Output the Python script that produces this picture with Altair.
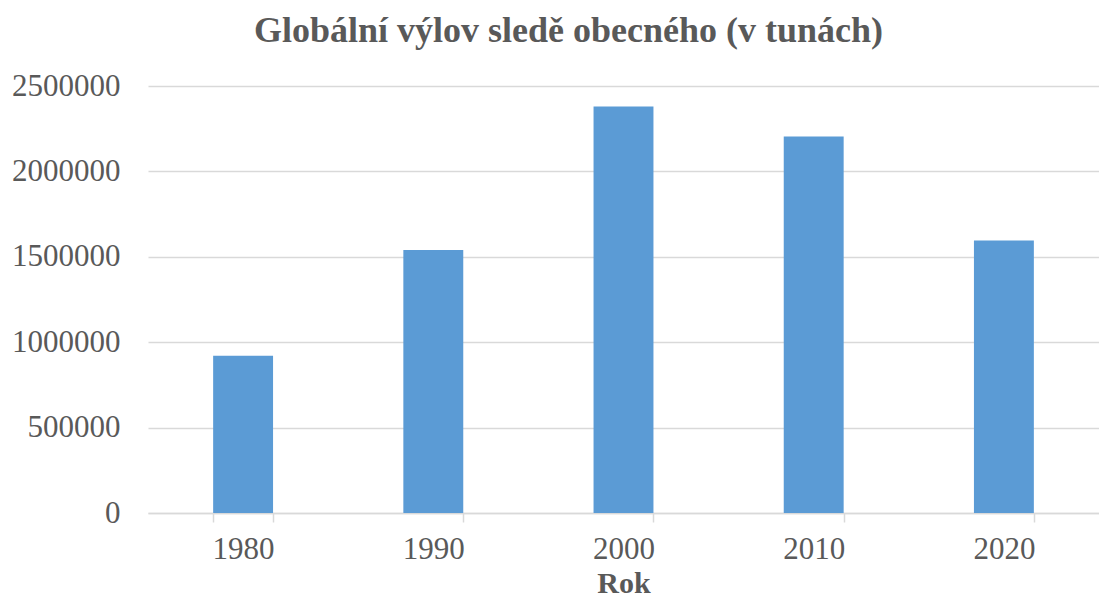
import altair as alt
import pandas as pd

years = ["1980", "1990", "2000", "2010", "2020"]
catch_tonnes = [920000, 1540000, 2380000, 2205000, 1595000]
y_ticks = [0, 500000, 1000000, 1500000, 2000000, 2500000]

df = pd.DataFrame({"Rok": years, "Vylov": catch_tonnes})

FONT = "Liberation Serif"
GREY = "#595959"
GRID = "#d9d9d9"

chart = (
    alt.Chart(df)
    .mark_bar(color="#5B9BD5")
    .encode(
        x=alt.X(
            "Rok:N",
            sort=years,
            title="Rok",
            scale=alt.Scale(paddingInner=0.685, paddingOuter=0.3425),
            axis=alt.Axis(
                labelAngle=0,
                labelFont=FONT,
                labelFontSize=31,
                labelColor=GREY,
                labelPadding=12,
                tickBand="extent",
                tickSize=9,
                tickColor=GRID,
                tickWidth=1.5,
                domainColor=GRID,
                domainWidth=1.5,
                titleFont=FONT,
                titleFontSize=30,
                titleFontWeight="bold",
                titleColor=GREY,
                titlePadding=4,
                grid=False,
            ),
        ),
        y=alt.Y(
            "Vylov:Q",
            title=None,
            scale=alt.Scale(domain=[0, 2500000], nice=False),
            axis=alt.Axis(
                values=y_ticks,
                format="d",
                labelFont=FONT,
                labelFontSize=31,
                labelColor=GREY,
                labelPadding=28,
                ticks=False,
                domain=False,
                grid=True,
                gridColor=GRID,
                gridWidth=1.5,
            ),
        ),
    )
    .properties(
        width=951,
        height=427,
        title=alt.TitleParams(
            "Globální výlov sledě obecného (v tunách)",
            font=FONT,
            fontSize=36,
            fontWeight="bold",
            color=GREY,
            anchor="middle",
            dx=-55,
            offset=20,
        ),
        autosize=alt.AutoSizeParams(type="none"),
        padding={"left": 140, "top": 78, "right": 0, "bottom": 86},
    )
    .configure_view(stroke=None)
)

chart.save("out.html", embed_options={"renderer": "svg", "actions": False})
